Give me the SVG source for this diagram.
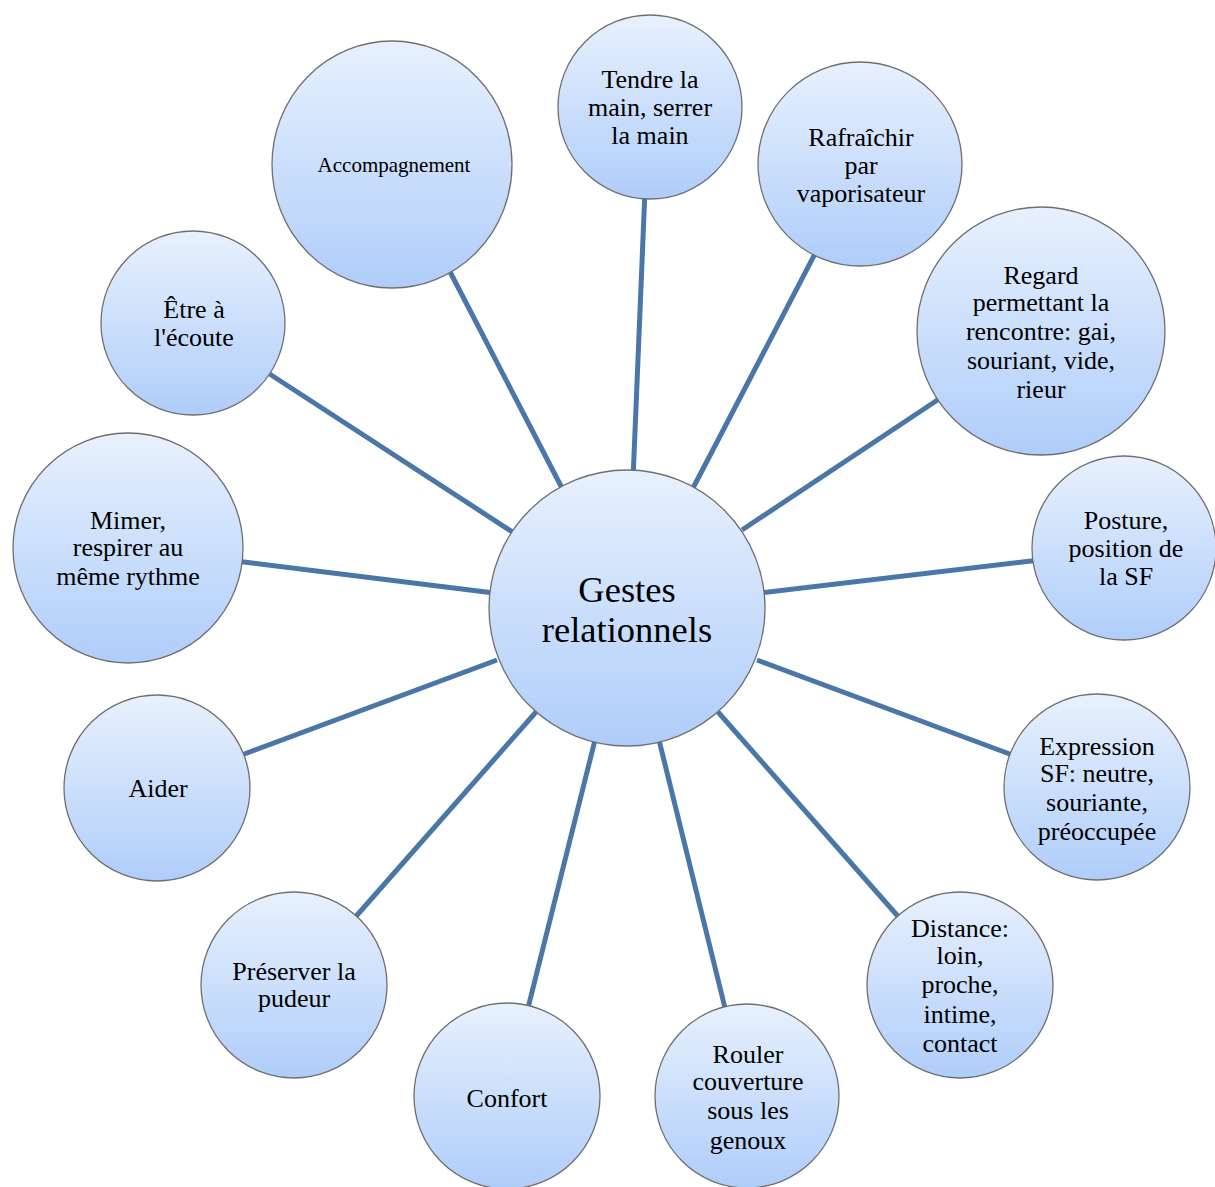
<svg xmlns="http://www.w3.org/2000/svg" width="1215" height="1187" viewBox="0 0 1215 1187">
<defs>
<linearGradient id="g" x1="0" y1="0" x2="0" y2="1">
<stop offset="0" stop-color="#e8f1fd"/>
<stop offset="1" stop-color="#afcdfa"/>
</linearGradient>
</defs>
<style>
.n{fill:url(#g);stroke:#6f6f6f;stroke-width:1.3}
.e{stroke:#4a76a8;stroke-width:5;fill:none}
text{font-family:"Liberation Serif","Times New Roman",serif;fill:#000;text-anchor:middle;font-size:26px}
.c{font-size:36.5px}
.s{font-size:21px}
</style>
<rect width="1215" height="1187" fill="#fff"/>
<g id="connectors">
<line class="e" x1="633" y1="480" x2="645" y2="190"/>
<line class="e" x1="692" y1="490" x2="818" y2="248"/>
<line class="e" x1="742" y1="530" x2="945" y2="395"/>
<line class="e" x1="760" y1="593" x2="1040" y2="560"/>
<line class="e" x1="757" y1="660" x2="1015" y2="756"/>
<line class="e" x1="718" y1="712" x2="903" y2="922"/>
<line class="e" x1="659" y1="740" x2="726" y2="1012"/>
<line class="e" x1="595" y1="740" x2="527" y2="1012"/>
<line class="e" x1="536" y1="712" x2="351" y2="922"/>
<line class="e" x1="497" y1="660" x2="239" y2="756"/>
<line class="e" x1="494" y1="593" x2="236" y2="561"/>
<line class="e" x1="514" y1="533" x2="265" y2="371"/>
<line class="e" x1="563" y1="490" x2="447" y2="266"/>
</g>
<g id="center"><circle class="n" cx="627" cy="608" r="138"/><text class="c" x="627" y="602">Gestes</text><text class="c" x="627" y="642">relationnels</text></g>
<g id="tendre"><circle class="n" cx="650" cy="107" r="92"/><text x="650" y="88">Tendre la</text><text x="650" y="116">main, serrer</text><text x="650" y="144">la main</text></g>
<g id="rafraichir"><circle class="n" cx="860" cy="164" r="102"/><text x="861" y="146">Rafraîchir</text><text x="861" y="174">par</text><text x="861" y="202">vaporisateur</text></g>
<g id="regard"><circle class="n" cx="1041" cy="331" r="124"/><text x="1041" y="284">Regard</text><text x="1041" y="311">permettant la</text><text x="1041" y="340">rencontre: gai,</text><text x="1041" y="369">souriant, vide,</text><text x="1041" y="398">rieur</text></g>
<g id="posture"><circle class="n" cx="1124" cy="548" r="92"/><text x="1126" y="529">Posture,</text><text x="1126" y="557">position de</text><text x="1126" y="585">la SF</text></g>
<g id="expression"><circle class="n" cx="1097" cy="787" r="93"/><text x="1097" y="755">Expression</text><text x="1097" y="782">SF: neutre,</text><text x="1097" y="811">souriante,</text><text x="1097" y="840">préoccupée</text></g>
<g id="distance"><circle class="n" cx="960" cy="985" r="93"/><text x="960" y="937">Distance:</text><text x="960" y="964">loin,</text><text x="960" y="993">proche,</text><text x="960" y="1023">intime,</text><text x="960" y="1052">contact</text></g>
<g id="rouler"><circle class="n" cx="747" cy="1096" r="92"/><text x="748" y="1063">Rouler</text><text x="748" y="1090">couverture</text><text x="748" y="1119">sous les</text><text x="748" y="1149">genoux</text></g>
<g id="confort"><circle class="n" cx="507" cy="1096" r="93"/><text x="507" y="1107">Confort</text></g>
<g id="preserver"><circle class="n" cx="294" cy="985" r="93"/><text x="294" y="980">Préserver la</text><text x="294" y="1007">pudeur</text></g>
<g id="aider"><circle class="n" cx="157" cy="788" r="93"/><text x="158" y="797">Aider</text></g>
<g id="mimer"><circle class="n" cx="128" cy="548" r="115"/><text x="128" y="529">Mimer,</text><text x="128" y="556">respirer au</text><text x="128" y="585">même rythme</text></g>
<g id="etre"><circle class="n" cx="193" cy="323" r="92"/><text x="194" y="318">Être à</text><text x="194" y="346">l'écoute</text></g>
<g id="accompagnement"><ellipse class="n" cx="392" cy="164.5" rx="120" ry="123.5"/><text class="s" x="394" y="172">Accompagnement</text></g>
</svg>
